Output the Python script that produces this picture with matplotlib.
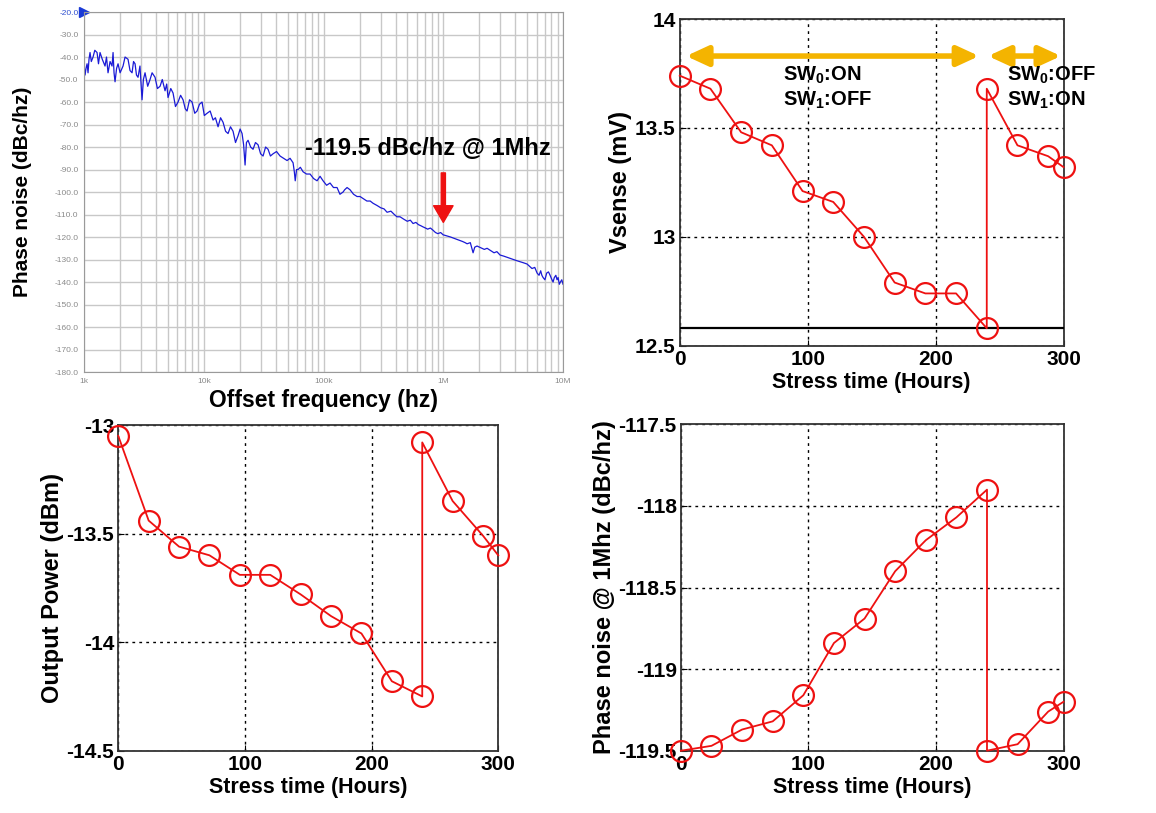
import numpy as np
import matplotlib
matplotlib.use('Agg')
import matplotlib.pyplot as plt
from matplotlib.ticker import LogLocator, FixedLocator, NullFormatter

plt.rcParams['font.family'] = ['Liberation Sans', 'DejaVu Sans']
plt.rcParams['font.weight'] = 'bold'
plt.rcParams['axes.unicode_minus'] = False
plt.rcParams['mathtext.fontset'] = 'custom'
plt.rcParams['mathtext.rm'] = 'Liberation Sans:bold'
plt.rcParams['mathtext.it'] = 'Liberation Sans:bold'
plt.rcParams['mathtext.bf'] = 'Liberation Sans:bold'

# spectrum trace (Hz, dBc/Hz)
freq_hz = [1000, 1003, 1020, 1039, 1060, 1080, 1100, 1122, 1150, 1189, 1230, 1284, 1320, 1360,
           1420, 1497, 1540, 1586, 1650, 1713, 1747, 1780, 1815, 1870, 1923, 2000, 2117, 2200,
           2330, 2420, 2517, 2590, 2667, 2740, 2824, 2930, 3050, 3130, 3231, 3400, 3557, 3700,
           3916, 4100, 4312, 4500, 4747, 4900, 5028, 5300, 5537, 5800, 6095, 6400, 6710, 7000,
           7247, 7600, 7979, 8400, 8783, 9200, 9669, 10100, 10645, 11300, 11947, 12500, 13152,
           13800, 14480, 15200, 15940, 16700, 17549, 18400, 19320, 20100, 20866, 21500, 22110,
           22700, 23420, 24600, 25780, 27000, 28380, 29800, 31250, 32800, 34400, 36000, 37870,
           40500, 43330, 46300, 49570, 52500, 55640, 57000, 58000, 59500, 61250, 64000, 67440,
           72000, 77150, 82500, 88260, 93500, 99030, 106000, 113300, 121000, 129600, 137000,
           145500, 150000, 157100, 166400, 178000, 190400, 201700, 215000, 230000, 245000,
           259000, 280000, 300000, 320000, 339100, 365000, 390000, 410000, 435300, 465000,
           500000, 530000, 559000, 590000, 620000, 650000, 677400, 710000, 740000, 780000,
           821000, 860000, 900000, 950000, 995200, 1070000, 1150000, 1220000, 1302000, 1380000,
           1450000, 1520000, 1579000, 1680000, 1772000, 1830000, 1913000, 2000000, 2100000,
           2200000, 2319000, 2480000, 2650000, 2800000, 2978000, 3200000, 3400000, 3600000,
           3823000, 4100000, 4400000, 4700000, 5004000, 5250000, 5500000, 5800000, 6066000,
           6300000, 6500000, 6650000, 6808000, 7050000, 7300000, 7550000, 7788000, 8000000,
           8250000, 8450000, 8700000, 8900000, 9085000, 9300000, 9500000, 9750000, 10000000]
pn_dbc = [-58, -44, -48, -45, -43, -47, -41, -38, -42, -40, -37, -38, -43, -38,
          -41, -44, -40, -47, -42, -44, -38, -47, -51, -45, -43, -47, -44, -40,
          -41, -46, -47, -42, -43, -48, -49, -44, -59, -50, -47, -53, -50, -47,
          -49, -54, -53, -50, -55, -52, -58, -54, -56, -62, -60, -57, -59, -63,
          -64, -59, -60, -65, -64, -61, -60, -66, -65, -64, -68, -67, -71,
          -67, -69, -73, -74, -71, -73, -78, -75, -72, -74, -79, -88,
          -78, -77, -80, -81, -78, -79, -83, -84, -80, -81, -84, -83,
          -82, -84, -85, -86, -85, -87, -91, -95, -90, -90, -89, -91,
          -92, -92, -94, -95, -93, -95, -97, -96, -98, -98, -101,
          -100, -99, -98, -99, -101, -102, -102, -103, -104, -104,
          -105, -106, -107, -107.5, -109, -108.5, -110, -111, -111, -112,
          -113, -112.5, -114, -113.5, -114.5, -115, -115.5, -116, -116.5, -116,
          -117, -118, -118.5, -118, -119, -119.5, -120, -120.5, -121, -121.5,
          -122, -122.5, -123, -122.5, -127, -124.5, -124, -124.5, -125,
          -125.5, -125, -126, -127, -126.5, -128, -128.5, -129, -129.5,
          -130, -130.5, -131, -131.5, -132, -133, -134, -133.5, -136,
          -137, -135, -137, -138, -139, -136, -135.5, -137, -138.5,
          -140, -138, -137, -139, -138, -141, -140, -139, -141]

# stress measurements (hours); 240 h appears twice: before and after switching
hours = [0, 24, 48, 72, 96, 120, 144, 168, 192, 216, 240, 240, 264, 288, 300]
vsense_mv = [13.74, 13.68, 13.48, 13.42, 13.21, 13.16, 13.00, 12.79, 12.74, 12.74, 12.58,
             13.68, 13.42, 13.37, 13.32]
vsense_limit = 12.58
pout_dbm = [-13.05, -13.44, -13.56, -13.60, -13.69, -13.69, -13.78, -13.88, -13.96, -14.18,
            -14.25, -13.08, -13.35, -13.51, -13.60]
pn_1mhz = [-119.50, -119.47, -119.37, -119.32, -119.16, -118.84, -118.69, -118.40, -118.21,
           -118.07, -117.90, -119.50, -119.46, -119.26, -119.20]

fig = plt.figure(figsize=(11.56, 8.13), dpi=100)

# ---- phase noise spectrum ----
ax0 = fig.add_axes([0.0727, 0.5424, 0.4144, 0.4428])
ax0.semilogx(freq_hz, pn_dbc, color='#1a1ad6', lw=0.9)
ax0.set_xlim(1e3, 1e7)
ax0.set_ylim(-180, -20)
ax0.set_yticks(np.arange(-180, -19, 10))
ax0.set_yticklabels(['%.1f' % v for v in np.arange(-180, -19, 10)])
ax0.xaxis.set_major_locator(FixedLocator([1e3, 1e4, 1e5, 1e6, 1e7]))
ax0.set_xticklabels(['1k', '10k', '100k', '1M', '10M'])
ax0.xaxis.set_minor_locator(LogLocator(base=10, subs=np.arange(2, 10)))
ax0.xaxis.set_minor_formatter(NullFormatter())
ax0.grid(True, which='both', color='#c8c8c8', lw=1.0)
ax0.tick_params(which='both', length=0, labelsize=6, labelcolor='#8a8a8a', pad=4)
for lbl in ax0.get_yticklabels() + ax0.get_xticklabels():
    lbl.set_fontweight('normal')
ax0.get_yticklabels()[-1].set_color('#3050d0')
for s in ax0.spines.values():
    s.set_color('#9a9a9a')
ax0.plot([1e3], [-20], marker='>', color='#1a3ad6', ms=7, clip_on=False)
ax0.set_ylabel('Phase noise (dBc/hz)', fontsize=15, fontweight='bold', labelpad=16)
ax0.set_xlabel('Offset frequency (hz)', fontsize=16.5, fontweight='bold', labelpad=3)
ax0.text(7.0e4, -80.5, '-119.5 dBc/hz @ 1Mhz', fontsize=17, fontweight='bold',
         ha='left', va='center')
ax0.annotate('', xy=(1e6, -113.5), xytext=(1e6, -91.5),
             arrowprops=dict(facecolor='#ee1111', edgecolor='#ee1111', width=3,
                             headwidth=14, headlength=12))


def stress_axes(rect, values, yticks, ylabel):
    ax = fig.add_axes(rect)
    ax.plot(hours, values, color='#ee1111', lw=1.3, marker='o', ms=15,
            mfc='none', mec='#ee1111', mew=1.6, clip_on=False, zorder=5)
    ax.set_xlim(0, 300)
    ax.set_xticks([0, 100, 200, 300])
    ax.set_ylim(yticks[0], yticks[-1])
    ax.set_yticks(yticks)
    ax.set_yticklabels(['%g' % v for v in yticks])
    ax.grid(True, color='black', ls=(0, (2, 3)), lw=1.0)
    ax.tick_params(direction='in', length=4, labelsize=15, pad=3)
    for s in ax.spines.values():
        s.set_color('#333333')
        s.set_linewidth(1.3)
    ax.set_xlabel('Stress time (Hours)', fontsize=15.5, fontweight='bold', labelpad=2)
    ax.set_ylabel(ylabel, fontsize=17, fontweight='bold', labelpad=2)
    return ax


ax1 = stress_axes([0.588, 0.5748, 0.332, 0.4018], vsense_mv, [12.5, 13, 13.5, 14],
                  'Vsense (mV)')
ax1.axhline(vsense_limit, color='black', lw=1.6, zorder=3)
gold = '#f4b400'
for x0, x1 in [(5, 234), (241, 298)]:
    ax1.annotate('', xy=(x1, 13.83), xytext=(x0, 13.83),
                 arrowprops=dict(arrowstyle='<|-|>,head_length=0.65,head_width=0.3',
                                 color=gold, lw=4, shrinkA=0, shrinkB=0,
                                 mutation_scale=20))
ax1.text(81, 13.715, 'SW$_0$:ON', fontsize=14.5, fontweight='bold', va='baseline')
ax1.text(81, 13.60, 'SW$_1$:OFF', fontsize=14.5, fontweight='bold', va='baseline')
ax1.text(256, 13.715, 'SW$_0$:OFF', fontsize=14.5, fontweight='bold', va='baseline',
         clip_on=False)
ax1.text(256, 13.60, 'SW$_1$:ON', fontsize=14.5, fontweight='bold', va='baseline',
         clip_on=False)

ax2 = stress_axes([0.1023, 0.0766, 0.3287, 0.4006], pout_dbm, [-14.5, -14, -13.5, -13],
                  'Output Power (dBm)')
ax3 = stress_axes([0.589, 0.0766, 0.331, 0.4014], pn_1mhz,
                  [-119.5, -119, -118.5, -118, -117.5], 'Phase noise @ 1Mhz (dBc/hz)')

fig.savefig('out.png', dpi=100)
